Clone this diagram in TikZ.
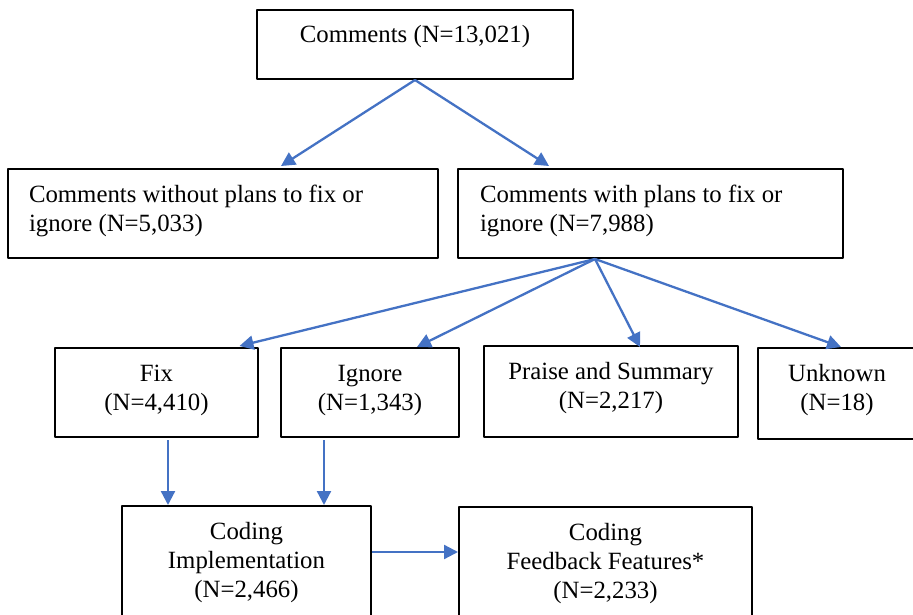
\documentclass[tikz,border=0pt]{standalone}
\usepackage{fontspec}
\setmainfont{Liberation Serif}
\usetikzlibrary{arrows.meta}
\definecolor{arrowblue}{HTML}{4472C4}
% box contents: width, height, first baseline fixed by a strut
\newcommand{\celltext}[4][\centering]{\parbox[c][#3][t]{#2}{#1\rule{0pt}{33pt}#4}}
\tikzset{
	box/.style={draw, line width=2pt, inner sep=0pt, anchor=north west,
		font=\fontsize{24.8}{29}\selectfont},
	link/.style={draw=arrowblue, line width=2.3pt, -{Triangle[length=14pt,width=14pt]}}
}
\begin{document}
\begin{tikzpicture}[x=1pt,y=-1pt,line join=round]
	\useasboundingbox (0,0) rectangle (913,615);
	% first level
	\node[box] (total) at (256,9) {\celltext{316pt}{69pt}{Comments (N=13,021)}};
	% second level
	\node[box,inner xsep=21pt] (noplan) at (7,168)
		{\celltext[\raggedright]{388pt}{89pt}{Comments without plans to fix or\\ignore (N=5,033)}};
	\node[box,inner xsep=22pt] (plan) at (457,168)
		{\celltext[\raggedright]{341pt}{89pt}{Comments with plans to fix or\\ignore (N=7,988)}};
	% third level
	\node[box] (fix) at (54,347) {\celltext{203pt}{89pt}{Fix\\(N=4,410)}};
	\node[box] (ignore) at (280,347) {\celltext{178pt}{89pt}{Ignore\\(N=1,343)}};
	\node[box] (praise) at (483,345) {\celltext{254pt}{91pt}{Praise and Summary\\(N=2,217)}};
	\node[box] (unknown) at (757,347) {\celltext{158pt}{91pt}{Unknown\\(N=18)}};
	% coding
	\node[box] (impl) at (121,505) {\celltext{249pt}{110pt}{Coding\\Implementation\\(N=2,466)}};
	\node[box] (features) at (458,506) {\celltext{293pt}{109pt}{Coding\\Feedback Features*\\(N=2,233)}};

	\draw[link] (total.south) -- ([xshift=58pt,yshift=2pt]noplan.north);
	\draw[link] (total.south) -- ([xshift=-101.5pt,yshift=2pt]plan.north);
	\foreach \dest/\dx/\dy in {fix/83/1, ignore/47/0, praise/29/-2, unknown/4/0}{
		\draw[link] ([xshift=-55.5pt]plan.south) -- ([xshift=\dx pt,yshift=\dy pt]\dest.north);
	}
	\draw[link] ([xshift=11.5pt,yshift=-2pt]fix.south) -- ([xshift=11.5pt]fix.south |- impl.north);
	\draw[link] ([xshift=-46pt,yshift=-2pt]ignore.south) -- ([xshift=-46pt]ignore.south |- impl.north);
	\draw[link] ([yshift=9pt]impl.east) -- ([yshift=9pt]impl.east -| features.west);
\end{tikzpicture}
\end{document}
